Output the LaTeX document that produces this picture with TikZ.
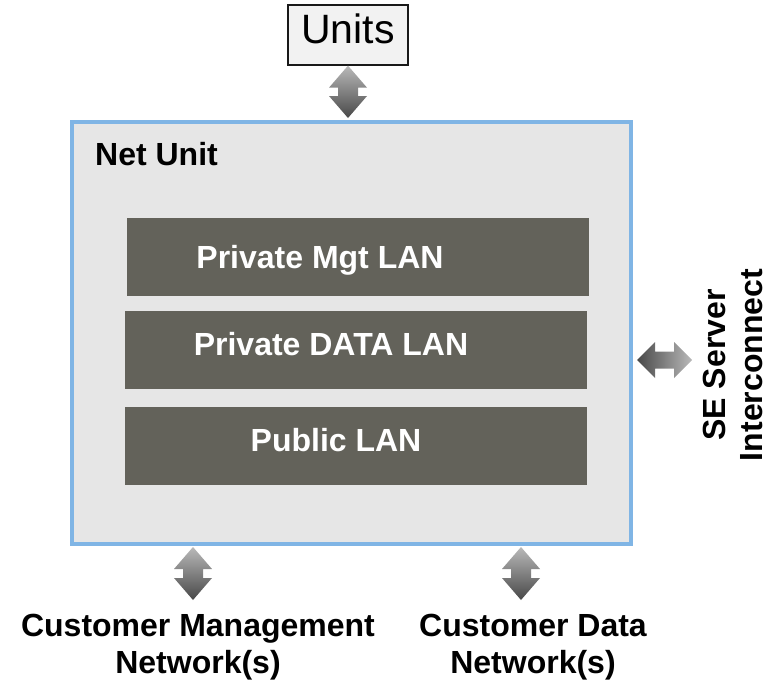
\documentclass[tikz,border=0pt]{standalone}
\usepackage{fontspec}
\setmainfont{Liberation Sans}
\usetikzlibrary{calc}

\definecolor{netblue}{RGB}{128,181,229}
\definecolor{netfill}{RGB}{230,230,230}
\definecolor{lanfill}{RGB}{99,98,90}
\definecolor{arrlight}{RGB}{185,185,185}
\definecolor{arrdark}{RGB}{72,72,72}

% shaded block arrows with two heads
\newcommand\vbiarrow[2]{%
  \shade[top color=arrlight, bottom color=arrdark]
    let \p1=(#1), \p2=(#2) in
    (\x1,\y1) -- (\x1+19pt,\y1-22pt) -- (\x1+10pt,\y1-22pt) -- (\x1+10pt,\y2+22pt)
    -- (\x1+19pt,\y2+22pt) -- (\x1,\y2) -- (\x1-19pt,\y2+22pt) -- (\x1-10pt,\y2+22pt)
    -- (\x1-10pt,\y1-22pt) -- (\x1-19pt,\y1-22pt) -- cycle;}
\newcommand\hbiarrow[2]{%
  \shade[left color=arrdark, right color=arrlight]
    let \p1=(#1), \p2=(#2) in
    (\x1,\y1) -- (\x1+18pt,\y1+18pt) -- (\x1+18pt,\y1+8.5pt) -- (\x2-18pt,\y1+8.5pt)
    -- (\x2-18pt,\y1+18pt) -- (\x2,\y1) -- (\x2-18pt,\y1-18pt) -- (\x2-18pt,\y1-8.5pt)
    -- (\x1+18pt,\y1-8.5pt) -- (\x1+18pt,\y1-18pt) -- cycle;}

\begin{document}
\begin{tikzpicture}[x=1pt,y=-1pt,
    lbl/.style={font=\bfseries\fontsize{32}{37}\selectfont, align=center, inner sep=0pt},
    lanbox/.style={fill=lanfill, minimum width=462, minimum height=78, inner sep=0pt}]
        \useasboundingbox (0,0) rectangle (771,683);

        \node[draw=black!90, line width=1.3pt, fill=black!5, minimum width=120, minimum height=60,
              inner sep=0pt, text depth=12pt, font=\fontsize{41}{44}\selectfont] (units) at (348,35) {Units};
        \node[draw=netblue, line width=4pt, fill=netfill, minimum width=559, minimum height=422,
              inner sep=0pt] (net) at (351.5,333) {};
        \node[lbl, anchor=base west] (netlbl) at (95,165) {Net Unit};

        \node[lanbox] (mgt) at (358,257) {};
        \node[lanbox] (data) at (356,350) {};
        \node[lanbox] (pub) at (356,446) {};
        \node[lbl, text=white, anchor=base] (mgtlbl) at (320,268) {Private Mgt LAN};
        \node[lbl, text=white, anchor=base] (datalbl) at (331,355) {Private DATA LAN};
        \node[lbl, text=white, anchor=base] (publbl) at (336,451) {Public LAN};

        \node[lbl, rotate=90] (se) at (733,365) {SE Server\\Interconnect};
        \node[lbl, anchor=north] (cmn) at (198,614) {Customer Management\\Network(s)};
        \node[lbl, anchor=north] (cdn) at (533,614) {Customer Data\\Network(s)};

        \coordinate (unitlink) at (348,118);
        \coordinate (cmtop) at (193,547);
        \coordinate (cmbot) at (193,600);
        \coordinate (cdtop) at (521,547);
        \coordinate (cdbot) at (521,600);
        \coordinate (seleft) at (637,360);
        \coordinate (seright) at (692,360);

        \vbiarrow{units.south}{unitlink}
        \vbiarrow{cmtop}{cmbot}
        \vbiarrow{cdtop}{cdbot}
        \hbiarrow{seleft}{seright}
\end{tikzpicture}
\end{document}
